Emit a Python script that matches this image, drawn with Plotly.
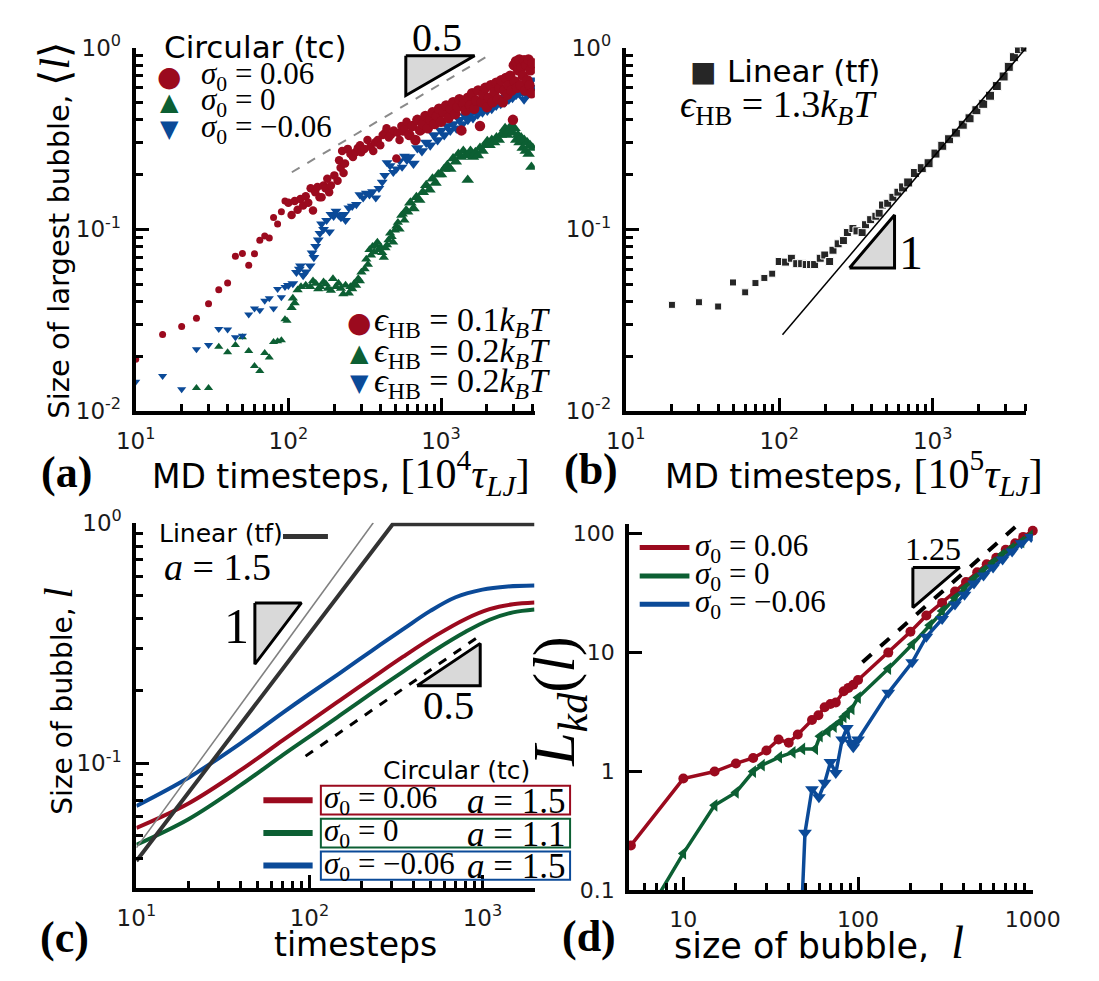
import plotly.graph_objects as go

W, H = 1099, 981
SANS = "DejaVu Sans"
SERIF = "Liberation Serif"
RED = "#9b0a1e"
GREEN = "#0c5f33"
BLUE = "#0b4a98"
FILL = "#d9d9d9"

# ---------------- Panel (a): largest bubble, circular ----------------
a_red = [(10,0.0193),(15,0.0264),(20,0.0292),(25,0.0324),(30,0.039),(35,0.0465),(40,0.0507),(45,0.071),(50,0.0736),(55,0.0634),(60,0.0733),(65,0.087),(70,0.092),(75,0.0895),(80,0.116),(85,0.107),(90,0.125),(95,0.143),
 (100,0.140),(105,0.120),(110,0.143),(115,0.128),(120,0.147),(125,0.135),(130,0.152),(135,0.140),(140,0.168),(145,0.127),(150,0.160),(155,0.171),(160,0.150),(165,0.150),(170,0.174),(175,0.168),(180,0.190),(185,0.160),(190,0.174),(200,0.198),(210,0.185),(215,0.240),(220,0.218),(225,0.270),(230,0.204),(235,0.230),(245,0.277),(255,0.260),(265,0.250),(275,0.265),(285,0.280),(295,0.290),(300,0.265),(315,0.277),(330,0.310),(345,0.285),(360,0.270),(370,0.300),(385,0.310),(400,0.290),(415,0.330),(430,0.340),(440,0.360),(455,0.320),(470,0.330),(490,0.350),(510,0.245),(520,0.340),(535,0.310),(550,0.370),(565,0.345),(580,0.360),(595,0.390),
 (620,0.33),(650,0.37),(680,0.31),(700,0.40),(730,0.35),(760,0.38),(790,0.42),(820,0.36),(850,0.40),(880,0.44),(910,0.38),(940,0.42),(970,0.46),(1000,0.39),(1040,0.44),(1080,0.48),(1120,0.41),(1160,0.46),(1200,0.50),(1240,0.43),(1280,0.47),(1320,0.52),(1360,0.35),(1400,0.49),(1450,0.45),(1500,0.53),(1550,0.48),(1600,0.56),(1650,0.46),(1700,0.51),(1750,0.58),(1800,0.37),(1850,0.50),(1900,0.55),(1950,0.60),(2000,0.47),(2060,0.53),(2120,0.62),(2180,0.50),(2240,0.57),(2300,0.64),(2360,0.52),(2420,0.60),(2480,0.66),(2540,0.50),(2600,0.58),(2660,0.68),(2720,0.55),(2780,0.62),(2840,0.70),(2900,0.58),(2960,0.40),(3000,0.80),(3050,0.65),(3100,0.84),(3150,0.60),(3200,0.75),(3260,0.86),(3320,0.62),(3380,0.78),(3440,0.70),(3500,0.85),(3560,0.58),(3620,0.80),(3680,0.66),(3740,0.86),(3800,0.62),(3860,0.75),(3920,0.56),(3980,0.82)]

a_blue = [(10,0.0145),(15,0.0156),(20,0.0132),(25,0.0219),(30,0.0231),(35,0.0283),(40,0.0281),(45,0.0255),(50,0.026),(55,0.034),(60,0.0367),(65,0.0359),(70,0.0404),(75,0.0418),(80,0.0367),(85,0.0469),(90,0.0423),(95,0.0482),
 (100,0.0492),(107,0.0503),(113,0.058),(118,0.0604),(120,0.063),(125,0.0557),(130,0.0583),(139,0.063),(143,0.0742),(147,0.070),(151,0.0805),(157,0.0874),(161,0.095),(165,0.107),(170,0.100),(178,0.112),(186,0.0968),(190,0.121),(198,0.118),(205,0.126),(213,0.120),(221,0.116),(232,0.121),(237,0.112),(249,0.131),(262,0.134),(279,0.137),(294,0.155),(309,0.149),(324,0.158),(340,0.155),(356,0.161),(374,0.149),(392,0.168),(412,0.182),(428,0.198),(443,0.233),(464,0.224),(487,0.206),(511,0.215),(536,0.238),(556,0.22),(576,0.253),(598,0.24),
 (620,0.25),(660,0.23),(700,0.28),(750,0.27),(800,0.30),(850,0.29),(900,0.33),(950,0.31),(1000,0.35),(1050,0.33),(1100,0.37),(1150,0.35),(1200,0.38),(1260,0.36),(1320,0.40),(1380,0.38),(1440,0.42),(1500,0.40),(1560,0.43),(1620,0.41),(1680,0.45),(1740,0.43),(1800,0.46),(1870,0.44),(1940,0.47),(2010,0.45),(2080,0.49),(2150,0.46),(2220,0.50),(2300,0.48),(2380,0.51),(2460,0.49),(2540,0.53),(2620,0.50),(2700,0.54),(2780,0.52),(2860,0.56),(2940,0.53),(3020,0.58),(3100,0.55),(3180,0.60),(3260,0.56),(3340,0.62),(3420,0.57),(3500,0.52),(3580,0.60),(3660,0.55),(3740,0.63),(3820,0.58),(3900,0.66),(3980,0.60)]

a_green = [(25,0.0134),(30,0.0134),(35,0.0226),(40,0.0211),(45,0.0231),(50,0.0255),(55,0.0214),(60,0.0177),(65,0.0166),(70,0.0209),(75,0.0197),(80,0.024),(85,0.0242),(90,0.0245),(95,0.032),
 (98,0.0314),(105,0.037),(107,0.0418),(110,0.0393),(115,0.0463),(121,0.0483),(130,0.0492),(139,0.0483),(145,0.0520),(151,0.0503),(157,0.0470),(162,0.0483),(170,0.0513),(176,0.0500),(182,0.0473),(190,0.0460),(196,0.0535),(205,0.0483),(213,0.0505),(221,0.0473),(229,0.0440),(237,0.0492),(249,0.0445),(255,0.0483),(262,0.0470),(270,0.0503),(278,0.0490),(287,0.0535),(294,0.0520),(301,0.058),(316,0.0604),(324,0.0684),(332,0.064),(340,0.0773),(348,0.0720),(356,0.0805),(365,0.075),(374,0.0821),(383,0.085),(392,0.0773),(402,0.080),(412,0.0742),(422,0.070),(433,0.0789),(443,0.082),(453,0.0874),(464,0.095),(475,0.091),(486,0.085),(498,0.0989),(510,0.104),(522,0.109),(535,0.100),(549,0.119),(562,0.121),(576,0.112),(590,0.128),
 (600,0.125),(630,0.14),(660,0.13),(690,0.15),(720,0.145),(760,0.16),(800,0.175),(840,0.165),(880,0.19),(920,0.18),(960,0.20),(1000,0.20),(1050,0.215),(1100,0.225),(1150,0.215),(1200,0.245),(1250,0.235),(1300,0.26),(1350,0.25),(1400,0.27),(1450,0.255),(1496,0.187),(1530,0.26),(1560,0.27),(1620,0.25),(1680,0.265),(1740,0.255),(1800,0.28),(1870,0.27),(1940,0.29),(2010,0.305),(2080,0.29),(2150,0.31),(2230,0.30),(2310,0.32),(2390,0.31),(2470,0.33),(2550,0.34),(2630,0.36),(2710,0.33),(2790,0.35),(2870,0.37),(2950,0.34),(3030,0.36),(3110,0.31),(3190,0.33),(3270,0.30),(3350,0.32),(3430,0.28),(3510,0.31),(3590,0.27),(3670,0.30),(3750,0.26),(3830,0.29),(3910,0.22),(3990,0.28)]

a_ref_t = [105.4, 2000]
a_ref_v = [0.206, 0.893]
a_tri_t = [588, 1660, 588, 588]
a_tri_v = [0.901, 0.901, 0.545, 0.901]

# ---------------- Panel (b): linear ----------------
b_pts = [(20,0.0384),(30,0.0397),(40,0.0376),(50,0.051),(60,0.045),(70,0.0506),(80,0.054),(90,0.057),(100,0.0665),(110,0.066),(120,0.0693),(130,0.0647),(140,0.0647),(150,0.064),(160,0.064),(170,0.064),(185,0.0693),(198,0.0722),(213,0.0665),(224,0.0767),(242,0.0832),(262,0.0867),(278,0.096),(302,0.101),(321,0.098),(347,0.096),(365,0.106),(394,0.113),(426,0.118),(448,0.1226),(471,0.136),(509,0.139),(550,0.150),(593,0.160),(641,0.170),(692,0.181),(766,0.204),(849,0.217),(940,0.231),(1042,0.261),(1154,0.288),(1278,0.313),(1416,0.340),(1570,0.376),(1738,0.408),(1925,0.452),(2133,0.49),(2362,0.543),(2617,0.614),(2898,0.693),(3131,0.783),(3380,0.885),(3650,0.98),(3980,1.0)]
b_fit_t = [105, 4083]
b_fit_v = [0.0263, 1.0]
b_tri_t = [287, 564, 564, 287]
b_tri_v = [0.0613, 0.0613, 0.120, 0.0613]

# ---------------- Panel (c): model curves ----------------
c_t_red = [10, 20, 40, 70, 100, 150, 230, 350, 540, 800, 1100, 1500, 2000]
c_v_red = [0.0538, 0.068, 0.0935, 0.1245, 0.149, 0.1825, 0.226, 0.278, 0.340, 0.398, 0.437, 0.458, 0.466]
c_t_green = [10, 20, 40, 70, 100, 150, 230, 350, 540, 800, 1100, 1500, 2000]
c_v_green = [0.0458, 0.0585, 0.081, 0.108, 0.129, 0.158, 0.196, 0.241, 0.297, 0.352, 0.395, 0.424, 0.436]
c_t_blue = [10, 20, 40, 70, 100, 150, 230, 350, 500, 700, 1000, 1400, 2000]
c_v_blue = [0.0664, 0.087, 0.121, 0.162, 0.194, 0.237, 0.294, 0.362, 0.430, 0.490, 0.527, 0.543, 0.548]
c_t_lin = [10, 303, 2000]
c_v_lin = [0.0392, 0.985, 0.985]
c_t_gray = [10, 234]
c_v_gray = [0.0445, 1.0]
c_ref_t = [95, 950]
c_ref_v = [0.107, 0.336]
c_tri1_t = [48.4, 89.9, 48.4, 48.4]
c_tri1_v = [0.464, 0.464, 0.258, 0.464]
c_tri2_t = [419, 971, 971, 419]
c_tri2_v = [0.21, 0.21, 0.315, 0.21]

# ---------------- Panel (d): L_kd ----------------
d_red = [(5.01,0.239),(10,0.873),(15.1,1.0),(20,1.17),(25.1,1.30),(29.9,1.50),(35.1,1.86),(40.1,1.75),(45.2,2.05),(54.5,2.71),(59.3,2.97),(64.4,3.47),(69.5,3.70),(74.6,3.81),(82.8,4.74),(88.1,5.05),(93.9,5.37),(100,5.89),(149,10.0),(199.5,15.0),(246,20.5),(303,26.2),(359,32.6),(415,39.3),(481,47.4),(545,55.4),(618,62.7),(700,73.3),(794,83),(882,94),(1000,106)]
d_green = [(7.2,0.091),(10,0.205),(15.1,0.52),(20,0.667),(25.1,1.0),(28.2,1.13),(35.4,1.32),(42.3,1.45),(48.0,1.55),(56.9,1.55),(60.5,1.98),(67.1,2.18),(72.8,2.39),(79.3,2.62),(82.8,2.88),(86.6,3.06),(92,3.36),(100,4.19),(149,7.33),(204,11.7),(257,17.0),(303,22.4),(359,28.8),(407,34.7),(461,41.9),(521,48.9),(590,57.1),(668,66.7),(757,75.5),(862,85.5),(1000,100)]
d_blue = [(48.0,0.09),(49.7,0.306),(54.5,0.71),(59.7,0.608),(64.4,0.804),(69.5,1.2),(74.6,0.97),(81.1,1.86),(86.3,2.32),(90.8,1.75),(93.9,1.6),(100,1.86),(149,4.59),(204,8.3),(246,13.6),(303,19.2),(359,25.4),(407,30.6),(461,38.1),(523,44.6),(593,52),(672,60.8),(762,71),(863,83),(979,94)]
d_ref_x = [106, 811]
d_ref_y = [8.3, 117]
d_tri_x = [206, 382, 206, 206]
d_tri_y = [52, 52, 23.9, 52]

# tick labels
pow_labels = {0.01: "10<sup>-2</sup>", 0.1: "10<sup>-1</sup>", 1: "10<sup>0</sup>",
              10: "10<sup>1</sup>", 100: "10<sup>2</sup>", 1000: "10<sup>3</sup>"}


def unzip(p):
    return [a for a, _ in p], [b for _, b in p]


def minor_vals(lo_exp, hi_exp, vmin=0, vmax=1e9):
    out = []
    for e in range(lo_exp, hi_exp):
        for m in range(2, 10):
            v = m * 10.0 ** e
            if vmin <= v <= vmax:
                out.append(v)
    return out


def PX(x):
    return x / W


def PY(y):
    return 1 - y / H


def dens_size(ts, small, mid, big):
    return [small if t < 100 else (mid if t < 600 else big) for t in ts]


fig = go.Figure()

# Panel (a)
fig.add_trace(go.Scatter(x=a_ref_t, y=a_ref_v, mode="lines", line=dict(color="#8a8a8a", width=2, dash="dash"), xaxis="x", yaxis="y"))
for pts, sym, col, sizes in [(a_green, "triangle-up", GREEN, (8, 9, 11)), (a_blue, "triangle-down", BLUE, (8, 9.5, 11)), (a_red, "circle", RED, (7, 8.5, 10.5))]:
    x, y = unzip(pts)
    fig.add_trace(go.Scatter(x=x, y=y, mode="markers",
                             marker=dict(symbol=sym, size=dens_size(x, *sizes), color=col, opacity=1, line=dict(width=0)),
                             xaxis="x", yaxis="y"))
fig.add_trace(go.Scatter(x=a_tri_t, y=a_tri_v, mode="lines", fill="toself", fillcolor=FILL, line=dict(color="black", width=3), xaxis="x", yaxis="y"))

# Panel (b)
x, y = unzip(b_pts)
fig.add_trace(go.Scatter(x=x, y=y, mode="markers",
                         marker=dict(symbol="square", size=dens_size(x, 7, 8, 9), color="#262626", opacity=1),
                         xaxis="x2", yaxis="y2"))
fig.add_trace(go.Scatter(x=b_fit_t, y=b_fit_v, mode="lines", line=dict(color="black", width=1.5), xaxis="x2", yaxis="y2"))
fig.add_trace(go.Scatter(x=b_tri_t, y=b_tri_v, mode="lines", fill="toself", fillcolor=FILL, line=dict(color="black", width=3), xaxis="x2", yaxis="y2"))

# Panel (c)
for t, v, col in [(c_t_green, c_v_green, GREEN), (c_t_red, c_v_red, RED), (c_t_blue, c_v_blue, BLUE)]:
    fig.add_trace(go.Scatter(x=t, y=v, mode="lines", line=dict(color=col, width=4, shape="spline", smoothing=1), xaxis="x3", yaxis="y3"))
fig.add_trace(go.Scatter(x=c_t_gray, y=c_v_gray, mode="lines", line=dict(color="#808080", width=1.5), xaxis="x3", yaxis="y3"))
fig.add_trace(go.Scatter(x=c_t_lin, y=c_v_lin, mode="lines", line=dict(color="#333333", width=4), xaxis="x3", yaxis="y3"))
fig.add_trace(go.Scatter(x=c_ref_t, y=c_ref_v, mode="lines", line=dict(color="black", width=3, dash="dash"), xaxis="x3", yaxis="y3"))
fig.add_trace(go.Scatter(x=c_tri1_t, y=c_tri1_v, mode="lines", fill="toself", fillcolor=FILL, line=dict(color="black", width=3), xaxis="x3", yaxis="y3"))
fig.add_trace(go.Scatter(x=c_tri2_t, y=c_tri2_v, mode="lines", fill="toself", fillcolor=FILL, line=dict(color="black", width=3), xaxis="x3", yaxis="y3"))

# Panel (d)
fig.add_trace(go.Scatter(x=d_ref_x, y=d_ref_y, mode="lines", line=dict(color="black", width=4, dash="dash"), xaxis="x4", yaxis="y4"))
for pts, sym, col, sz, clip in [(d_red, "circle", RED, 10, False), (d_green, "triangle-left", GREEN, 11, True), (d_blue, "triangle-down", BLUE, 12, True)]:
    x, y = unzip(pts)
    fig.add_trace(go.Scatter(x=x, y=y, mode="lines+markers", cliponaxis=clip,
                             line=dict(color=col, width=3.5), marker=dict(symbol=sym, size=sz, color=col),
                             xaxis="x4", yaxis="y4"))
fig.add_trace(go.Scatter(x=d_tri_x, y=d_tri_y, mode="lines", fill="toself", fillcolor=FILL, line=dict(color="black", width=3), xaxis="x4", yaxis="y4"))


def logaxis(domain, rng, tickvals, ticktext, minorvals, anchor, fontsize=23, standoff=6):
    ax = dict(type="log", domain=domain, range=rng, anchor=anchor,
              showline=True, linewidth=4, linecolor="black", mirror=False,
              ticks="inside", ticklen=13, tickwidth=3, tickcolor="black",
              tickmode="array", tickvals=tickvals, ticktext=ticktext,
              tickfont=dict(family=SANS, size=fontsize, color="#1a1a1a"),
              ticklabelstandoff=standoff, showgrid=False, zeroline=False, fixedrange=True)
    if minorvals:
        ax["minor"] = dict(tickmode="array", tickvals=minorvals, ticks="inside", ticklen=7,
                           tickwidth=2.5, tickcolor="black", showgrid=False)
    return ax


ya_dom = [PY(406.5), PY(31.5)]
fig.update_layout(
    xaxis=logaxis([PX(121), PX(538.4)], [1, 3.615], [10, 100, 1000], [pow_labels[v] for v in [10, 100, 1000]],
                  minor_vals(1, 4, vmax=4100), "y"),
    yaxis=logaxis(ya_dom, [-2, 0], [0.01, 0.1, 1], [pow_labels[v] for v in [0.01, 0.1, 1]],
                  minor_vals(-2, 0), "x"),
    xaxis2=logaxis([PX(633.4), PX(1052.3)], [1, 3.61], [10, 100, 1000], [pow_labels[v] for v in [10, 100, 1000]],
                   minor_vals(1, 4, vmax=4100), "y2"),
    yaxis2=logaxis(ya_dom, [-2, 0], [0.01, 0.1, 1], [pow_labels[v] for v in [0.01, 0.1, 1]],
                   minor_vals(-2, 0), "x2"),
    xaxis3=logaxis([PX(121.7), PX(538)], [1, 3.301], [10, 100, 1000], [pow_labels[v] for v in [10, 100, 1000]],
                   minor_vals(1, 4, vmax=2000), "y3"),
    yaxis3=logaxis([PY(898.7), PY(521.7)], [-1.52, 0], [0.1, 1], [pow_labels[v] for v in [0.1, 1]],
                   minor_vals(-2, 0, vmin=0.03), "x3"),
    xaxis4=logaxis([PX(637), PX(1059)], [0.69, 3.0], [10, 100, 1000], ["10", "100", "1000"],
                   minor_vals(0, 3, vmin=6), "y4", fontsize=22),
    yaxis4=logaxis([PY(901), PY(523)], [-1, 2.0815], [0.1, 1, 10, 100], ["0.1", "1", "10", "100"],
                   None, "x4", fontsize=22),
)

ann = []


def A(text, x, y, size, family=SERIF, xanchor="center", yanchor="middle", color="black", angle=0):
    ann.append(dict(text=text, x=PX(x), y=PY(y), xref="paper", yref="paper", showarrow=False,
                    font=dict(family=family, size=size, color=color), xanchor=xanchor, yanchor=yanchor,
                    textangle=angle))


SIG = "<i>σ</i><sub>0</sub> = "
EPS = "<i>ϵ</i><sub>HB</sub> = "
KBT = "<i>k</i><sub><i>B</i></sub><i>T</i>"
GLYPH = "DejaVu Sans"

# Panel (a) text
A("Circular (tc)", 149, 31, 31, SANS, xanchor="left")
A("●", 156, 61, 28, GLYPH, color=RED)
A("▲", 156, 88, 24, GLYPH, color=GREEN)
A("▼", 156, 116, 24, GLYPH, color=BLUE)
A(SIG + "0.06", 187, 61, 31, xanchor="left")
A(SIG + "0", 187, 88, 31, xanchor="left")
A(SIG + "−0.06", 187, 116, 31, xanchor="left")
A("●", 355, 315, 28, GLYPH, color=RED)
A("▲", 355, 347, 24, GLYPH, color=GREEN)
A("▼", 355, 378, 24, GLYPH, color=BLUE)
A(EPS + "0.1" + KBT, 368, 315, 34, xanchor="left")
A(EPS + "0.2" + KBT, 368, 347, 34, xanchor="left")
A(EPS + "0.2" + KBT, 368, 378, 34, xanchor="left")
A("0.5", 436, 21, 40)
A("Size of largest bubble, <span style='font-family:Liberation Serif;font-size:42px'>⟨<i>l</i>⟩</span>", 37, 220, 29, SANS, angle=-90)
A("MD timesteps, <span style='font-family:Liberation Serif;font-size:42px'>[10<sup>4</sup><i>τ</i><sub><i>LJ</i></sub>]</span>", 336, 470, 33, SANS)
A("<b>(a)</b>", 49, 470, 44)

# Panel (b) text
A("■", 714, 56, 28, GLYPH, color="#262626")
A("Linear (tf)", 737, 56, 31, SANS, xanchor="left")
A(EPS + "1.3" + KBT, 793, 93, 38)
A("1", 932, 243, 48)
A("MD timesteps, <span style='font-family:Liberation Serif;font-size:42px'>[10<sup>5</sup><i>τ</i><sub><i>LJ</i></sub>]</span>", 872, 470, 33, SANS)
A("<b>(b)</b>", 597, 467, 44)

# Panel (c) text
A("Linear (tf)", 143, 533, 25, SANS, xanchor="left")
A("<i>a</i> = 1.5", 206, 567, 38)
A("1", 226, 628, 50)
A("0.5", 448, 710, 41)
A("Circular (tc)", 456, 777, 25, SANS)
rows_c = [(RED, "0.06", "1.5", 793, 822.7), (GREEN, "0", "1.1", 827, 856.7), (BLUE, "−0.06", "1.5", 860.7, 890)]
shapes = []
for col, s, a, y0, y1 in rows_c:
    ym = (y0 + y1) / 2
    shapes.append(dict(type="rect", xref="paper", yref="paper", x0=PX(314.6), x1=PX(575.2), y0=PY(y1), y1=PY(y0),
                       line=dict(color=col, width=2)))
    shapes.append(dict(type="line", xref="paper", yref="paper", x0=PX(254.5), x1=PX(306), y0=PY(ym), y1=PY(ym),
                       line=dict(color=col, width=6)))
    A(SIG + s, 316, ym, 31, xanchor="left")
    A("<i>a</i> = " + a, 573, ym + 1, 35, xanchor="right")
shapes.append(dict(type="line", xref="paper", yref="paper", x0=PX(275), x1=PX(322), y0=PY(536), y1=PY(536),
                   line=dict(color="#333333", width=5)))
A("timesteps", 351, 957, 33, SANS)
A("Size of bubble, <i><span style='font-family:Liberation Serif;font-size:40px'>l</span></i>", 40, 706, 28, SANS, angle=-90)
A("<b>(c)</b>", 47, 950, 44)

# Panel (d) text
for col, s, y in [(RED, "0.06", 547.3), (GREEN, "0", 576.7), (BLUE, "−0.06", 605.7)]:
    shapes.append(dict(type="line", xref="paper", yref="paper", x0=PX(648), x1=PX(700), y0=PY(y), y1=PY(y),
                       line=dict(color=col, width=5)))
    A(SIG + s, 704, y, 31, xanchor="left")
A("1.25", 955, 549, 32)
A("size of bubble,  <i><span style='font-family:Liberation Serif;font-size:46px'>l</span></i>", 836, 955, 35, SANS)
A("<i>L</i><sub><i>kd</i></sub>(<i>l</i>)", 563, 706, 60, angle=-90)
A("<b>(d)</b>", 595, 948, 44)

fig.update_layout(annotations=ann, shapes=shapes, width=W, height=H, showlegend=False,
                  margin=dict(l=0, r=0, t=0, b=0), paper_bgcolor="white", plot_bgcolor="white")

fig.write_html("out.html")
